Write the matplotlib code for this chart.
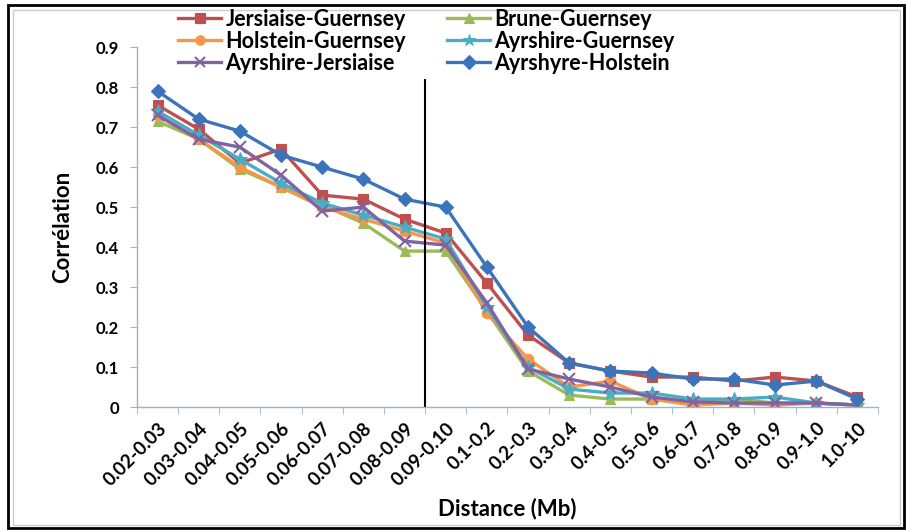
import matplotlib.pyplot as plt
from matplotlib.patches import Rectangle

# ===============================
# Données
# ===============================
categories = ["0.02-0.03", "0.03-0.04", "0.04-0.05", "0.05-0.06", "0.06-0.07",
              "0.07-0.08", "0.08-0.09", "0.09-0.10", "0.1-0.2", "0.2-0.3",
              "0.3-0.4", "0.4-0.5", "0.5-0.6", "0.6-0.7", "0.7-0.8",
              "0.8-0.9", "0.9-1.0", "1.0-10"]

jersiaise_guernsey = [0.755, 0.695, 0.61, 0.645, 0.53, 0.52, 0.47, 0.435, 0.31, 0.18,
                      0.11, 0.09, 0.075, 0.075, 0.065, 0.075, 0.065, 0.025]
brune_guernsey = [0.715, 0.67, 0.595, 0.55, 0.505, 0.46, 0.39, 0.39, 0.24, 0.09,
                  0.03, 0.02, 0.02, 0.01, 0.02, 0.01, 0.01, 0.005]
holstein_guernsey = [0.73, 0.67, 0.60, 0.55, 0.50, 0.47, 0.44, 0.41, 0.235, 0.12,
                     0.05, 0.065, 0.02, 0.005, 0.01, 0.005, 0.01, 0.005]
ayrshire_guernsey = [0.74, 0.68, 0.62, 0.56, 0.51, 0.48, 0.45, 0.42, 0.25, 0.10,
                     0.045, 0.035, 0.035, 0.02, 0.02, 0.025, 0.01, 0.005]
ayrshire_jersiaise = [0.73, 0.67, 0.65, 0.58, 0.49, 0.50, 0.415, 0.405, 0.26, 0.095,
                      0.07, 0.05, 0.025, 0.013, 0.01, 0.01, 0.01, 0.005]
ayrshyre_holstein = [0.79, 0.72, 0.69, 0.63, 0.60, 0.57, 0.52, 0.50, 0.35, 0.20,
                     0.11, 0.09, 0.085, 0.07, 0.07, 0.055, 0.065, 0.02]

series = [
    ("Jersiaise-Guernsey", jersiaise_guernsey, "#C0504D", "s"),
    ("Brune-Guernsey", brune_guernsey, "#9BBB59", "^"),
    ("Holstein-Guernsey", holstein_guernsey, "#F79646", "o"),
    ("Ayrshire-Guernsey", ayrshire_guernsey, "#4BACC6", "*"),
    ("Ayrshire-Jersiaise", ayrshire_jersiaise, "#8064A2", "x"),
    ("Ayrshyre-Holstein", ayrshyre_holstein, "#3C74BC", "D"),
]

plt.rcParams['font.family'] = ['Lato', 'DejaVu Sans']
plt.rcParams['font.weight'] = 'bold'

fig = plt.figure(figsize=(9.07, 5.30), dpi=100)
ax = fig.add_axes([0.151, 0.232, 0.817, 0.679])

x = list(range(len(categories)))
handles = {}
for nom, valeurs, couleur, marqueur in series:
    ms = 7.5
    if marqueur == "*":
        ms = 10
    elif marqueur == "x":
        ms = 8
    h, = ax.plot(x, valeurs, color=couleur, linewidth=2.4, marker=marqueur,
                 markersize=ms, markeredgewidth=1.5 if marqueur == "x" else 0.8,
                 markeredgecolor=couleur, label=nom)
    handles[nom] = h

# Ligne verticale séparatrice
ax.vlines(6.5, 0, 0.82, color="black", linewidth=1.5)

# Axes
ax.set_xlim(-0.5, len(categories) - 0.5)
ax.set_ylim(0, 0.9)
ax.set_yticks([i / 10 for i in range(10)])
ax.set_yticklabels(["0"] + [f"0.{i}" for i in range(1, 10)], fontsize=12, fontweight='bold')
ax.set_xticks(x)
ax.set_xticklabels(categories, rotation=45, ha='right', rotation_mode='anchor',
                   fontsize=13.5, fontweight='bold')
ax.set_xticks([i - 0.5 for i in range(len(categories) + 1)], minor=True)
ax.tick_params(axis='x', which='major', length=0, pad=9)
ax.tick_params(axis='x', which='minor', length=5, color="#9DB3CC", direction='out')
ax.tick_params(axis='y', length=5, color="#9DB3CC", direction='out', pad=8)

for cote in ["top", "right"]:
    ax.spines[cote].set_visible(False)
for cote in ["left", "bottom"]:
    ax.spines[cote].set_color("#9DB3CC")
    ax.spines[cote].set_linewidth(1)

ax.set_xlabel("Distance (Mb)", fontsize=16, fontweight='bold', labelpad=6)
ax.set_ylabel("Corrélation", fontsize=16, fontweight='bold', labelpad=16)

# Légende (ordre Excel, 2 colonnes)
ordre = ["Jersiaise-Guernsey", "Holstein-Guernsey", "Ayrshire-Jersiaise",
         "Brune-Guernsey", "Ayrshire-Guernsey", "Ayrshyre-Holstein"]
fig.legend([handles[n] for n in ordre], ordre, ncol=2, loc='upper left',
           bbox_to_anchor=(0.175, 1.02), frameon=False, fontsize=15.5,
           handlelength=2.0, handletextpad=0.2, columnspacing=1.9,
           labelspacing=0.05, markerscale=0.9)

# Cadre extérieur
fig.patches.append(Rectangle((0.009, 0.004), 0.988, 0.986, transform=fig.transFigure,
                             fill=False, edgecolor="black", linewidth=2))
fig.patches.append(Rectangle((0.014, 0.01), 0.978, 0.972, transform=fig.transFigure,
                             fill=False, edgecolor="#C8CCD0", linewidth=1))

fig.savefig("out.png", dpi=100)
